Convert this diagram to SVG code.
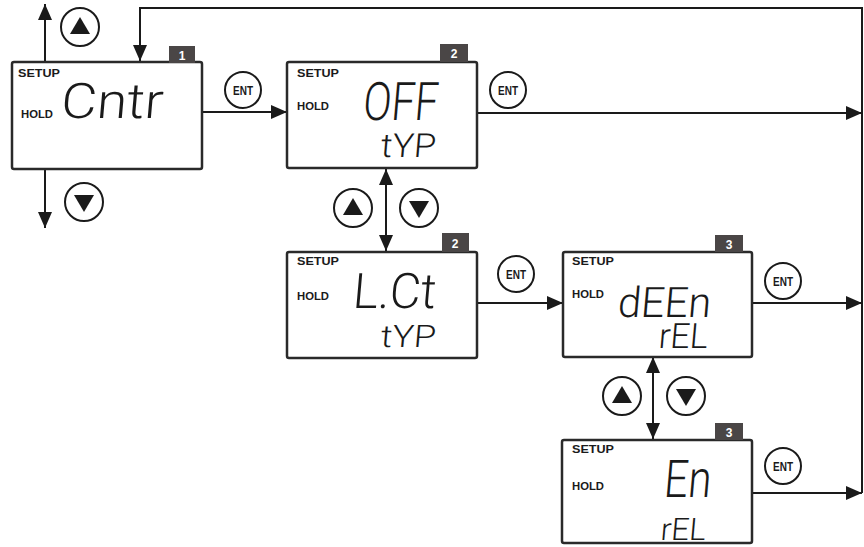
<svg xmlns="http://www.w3.org/2000/svg" width="864" height="547" viewBox="0 0 864 547">
<defs>
<style>
.bg{fill:#ffffff}
.box{fill:#ffffff;stroke:#2a2a2a;stroke-width:2.5}
.badge{fill:#4a4646}
.bnum{font-family:"Liberation Sans",Arial,sans-serif;font-weight:bold;font-size:12px;fill:#ffffff;text-anchor:middle}
.setup{font-family:"Liberation Sans",Arial,sans-serif;font-weight:bold;font-size:10.5px;fill:#1a1a1a}
.hold{font-family:"Liberation Sans",Arial,sans-serif;font-weight:bold;font-size:10px;fill:#1a1a1a}
.lcd{font-family:Roboto,"Liberation Sans",Arial,sans-serif;font-weight:300;fill:#1a1a1a}
.conn{fill:none;stroke:#1a1a1a;stroke-width:2}
.btn{fill:#ffffff;stroke:#1a1a1a;stroke-width:2}
.tri{fill:#1a1a1a}
.ent{font-family:"Liberation Sans",Arial,sans-serif;font-weight:bold;font-size:12px;fill:#1a1a1a;text-anchor:middle}
</style>
<marker id="ah" viewBox="0 0 16 14" refX="16" refY="7" markerWidth="16" markerHeight="14" markerUnits="userSpaceOnUse" orient="auto-start-reverse">
<path d="M0,0 L16,7 L0,14 z" fill="#1a1a1a"/>
</marker>
</defs>
<rect class="bg" x="0" y="0" width="864" height="547"/>

<g id="connectors">
<path class="conn" d="M45,61 V4" marker-end="url(#ah)"/>
<path class="conn" d="M45,169 V228" marker-end="url(#ah)"/>
<path class="conn" d="M862,493 V8 H140 V61" marker-end="url(#ah)"/>
<path class="conn" d="M202,112 H287" marker-end="url(#ah)"/>
<path class="conn" d="M477,113 H862" marker-end="url(#ah)"/>
<path class="conn" d="M386,169 V251" marker-start="url(#ah)" marker-end="url(#ah)"/>
<path class="conn" d="M477,303 H563" marker-end="url(#ah)"/>
<path class="conn" d="M752,303 H862" marker-end="url(#ah)"/>
<path class="conn" d="M653,357 V439" marker-start="url(#ah)" marker-end="url(#ah)"/>
<path class="conn" d="M752,493 H862" marker-end="url(#ah)"/>
</g>

<g id="buttons">
<g id="btn-up-1"><circle class="btn" cx="80" cy="27" r="19"/><polygon class="tri" points="70,34 90,34 80,17"/></g>
<g id="btn-down-1"><circle class="btn" cx="84" cy="202" r="19"/><polygon class="tri" points="74,195 94,195 84,212"/></g>
<g id="btn-ent-1"><circle class="btn" cx="243" cy="90" r="18"/><text class="ent" x="243" y="94.5" textLength="20" lengthAdjust="spacingAndGlyphs">ENT</text></g>
<g id="btn-ent-2"><circle class="btn" cx="508" cy="90" r="18"/><text class="ent" x="508" y="94.5" textLength="20" lengthAdjust="spacingAndGlyphs">ENT</text></g>
<g id="btn-up-2"><circle class="btn" cx="353" cy="208" r="19"/><polygon class="tri" points="343,215 363,215 353,198"/></g>
<g id="btn-down-2"><circle class="btn" cx="419" cy="208" r="19"/><polygon class="tri" points="409,201 429,201 419,218"/></g>
<g id="btn-ent-3"><circle class="btn" cx="516" cy="274" r="18"/><text class="ent" x="516" y="278.5" textLength="20" lengthAdjust="spacingAndGlyphs">ENT</text></g>
<g id="btn-ent-4"><circle class="btn" cx="783" cy="281" r="18"/><text class="ent" x="783" y="285.5" textLength="20" lengthAdjust="spacingAndGlyphs">ENT</text></g>
<g id="btn-up-3"><circle class="btn" cx="622" cy="396" r="19"/><polygon class="tri" points="612,403 632,403 622,386"/></g>
<g id="btn-down-3"><circle class="btn" cx="686" cy="396" r="19"/><polygon class="tri" points="676,389 696,389 686,406"/></g>
<g id="btn-ent-5"><circle class="btn" cx="783" cy="466" r="18"/><text class="ent" x="783" y="470.5" textLength="20" lengthAdjust="spacingAndGlyphs">ENT</text></g>
</g>

<g id="node1">
<rect class="box" x="12" y="62" width="190" height="107" rx="2"/>
<rect class="badge" x="169" y="46" width="26" height="17"/>
<text class="bnum" x="182" y="59.5">1</text>
<text class="setup" x="18" y="77" textLength="42" lengthAdjust="spacingAndGlyphs">SETUP</text>
<text class="hold" x="21" y="118" textLength="32" lengthAdjust="spacingAndGlyphs">HOLD</text>
<text class="lcd" transform="translate(60,118) skewX(-5)" font-size="49" textLength="102" lengthAdjust="spacingAndGlyphs">Cntr</text>
</g>

<g id="node2">
<rect class="box" x="287" y="62" width="190" height="106" rx="2"/>
<rect class="badge" x="440" y="44" width="28" height="18"/>
<text class="bnum" x="454" y="58">2</text>
<text class="setup" x="297" y="77" textLength="42" lengthAdjust="spacingAndGlyphs">SETUP</text>
<text class="hold" x="297" y="110" textLength="32" lengthAdjust="spacingAndGlyphs">HOLD</text>
<text class="lcd" transform="translate(362,120) skewX(-5)" font-size="53" textLength="75" lengthAdjust="spacingAndGlyphs">OFF</text>
<text class="lcd" transform="translate(380,157) skewX(-5)" font-size="33" textLength="55" lengthAdjust="spacingAndGlyphs">tYP</text>
</g>

<g id="node2b">
<rect class="box" x="287" y="252" width="190" height="106" rx="2"/>
<rect class="badge" x="442" y="233" width="27" height="19"/>
<text class="bnum" x="455" y="248">2</text>
<text class="setup" x="297" y="265" textLength="42" lengthAdjust="spacingAndGlyphs">SETUP</text>
<text class="hold" x="297" y="300" textLength="32" lengthAdjust="spacingAndGlyphs">HOLD</text>
<text class="lcd" transform="translate(352,308) skewX(-5)" font-size="49" textLength="83" lengthAdjust="spacingAndGlyphs">L.Ct</text>
<text class="lcd" transform="translate(380,347) skewX(-5)" font-size="31" textLength="55" lengthAdjust="spacingAndGlyphs">tYP</text>
</g>

<g id="node3">
<rect class="box" x="563" y="252" width="189" height="105" rx="2"/>
<rect class="badge" x="715" y="235" width="28" height="17"/>
<text class="bnum" x="729" y="249">3</text>
<text class="setup" x="572" y="265" textLength="42" lengthAdjust="spacingAndGlyphs">SETUP</text>
<text class="hold" x="572" y="298" textLength="32" lengthAdjust="spacingAndGlyphs">HOLD</text>
<text class="lcd" transform="translate(617,317) skewX(-5)" font-size="42" textLength="93" lengthAdjust="spacingAndGlyphs">dEEn</text>
<text class="lcd" transform="translate(658,348) skewX(-5)" font-size="35" textLength="49" lengthAdjust="spacingAndGlyphs">rEL</text>
</g>

<g id="node3b">
<rect class="box" x="562" y="440" width="190" height="103" rx="2"/>
<rect class="badge" x="715" y="423" width="28" height="17"/>
<text class="bnum" x="729" y="437">3</text>
<text class="setup" x="572" y="453" textLength="42" lengthAdjust="spacingAndGlyphs">SETUP</text>
<text class="hold" x="572" y="490" textLength="32" lengthAdjust="spacingAndGlyphs">HOLD</text>
<text class="lcd" transform="translate(663,497) skewX(-5)" font-size="52" textLength="47" lengthAdjust="spacingAndGlyphs">En</text>
<text class="lcd" transform="translate(660,540) skewX(-5)" font-size="31" textLength="45" lengthAdjust="spacingAndGlyphs">rEL</text>
</g>
</svg>
